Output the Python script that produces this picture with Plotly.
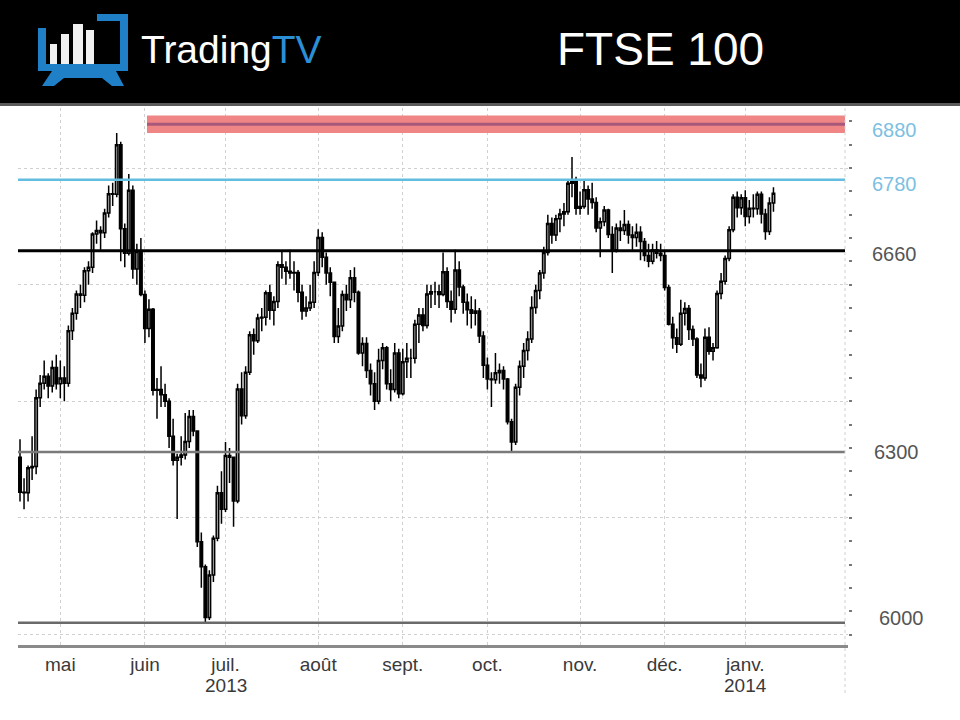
'''FTSE 100 daily candles, April 2013 - January 2014, with support/resistance levels'''

import plotly.graph_objects as go

# trading sessions shown on the chart (London, weekends and bank holidays left out)
trading_days = {
    '2013-04': [17, 18, 19, 22, 23, 24, 25, 26, 29, 30],
    '2013-05': [1, 2, 3, 7, 8, 9, 10, 13, 14, 15, 16, 17, 20, 21, 22, 23, 24, 28, 29, 30, 31],
    '2013-06': [3, 4, 5, 6, 7, 10, 11, 12, 13, 14, 17, 18, 19, 20, 21, 24, 25, 26, 27, 28],
    '2013-07': [1, 2, 3, 4, 5, 8, 9, 10, 11, 12, 15, 16, 17, 18, 19, 22, 23, 24, 25, 26, 29, 30, 31],
    '2013-08': [1, 2, 5, 6, 7, 8, 9, 12, 13, 14, 15, 16, 19, 20, 21, 22, 23, 27, 28, 29, 30],
    '2013-09': [2, 3, 4, 5, 6, 9, 10, 11, 12, 13, 16, 17, 18, 19, 20, 23, 24, 25, 26, 27, 30],
    '2013-10': [1, 2, 3, 4, 7, 8, 9, 10, 11, 14, 15, 16, 17, 18, 21, 22, 23, 24, 25, 28, 29, 30, 31],
    '2013-11': [1, 4, 5, 6, 7, 8, 11, 12, 13, 14, 15, 18, 19, 20, 21, 22, 25, 26, 27, 28, 29],
    '2013-12': [2, 3, 4, 5, 6, 9, 10, 11, 12, 13, 16, 17, 18, 19, 20, 23, 24, 27, 30, 31],
    '2014-01': [2, 3, 6, 7, 8, 9, 10, 13],
}

opens = [
    6304, 6244, 6243, 6286, 6288, 6406, 6431, 6443, 6426, 6458,
    6430, 6440, 6431, 6521, 6551, 6584, 6582, 6624, 6630, 6687, 6693, 6689, 6723, 6756, 6755, 6840, 6696, 6654, 6762, 6627, 6657,
    6583, 6525, 6558, 6419, 6420, 6411, 6400, 6340, 6299, 6304, 6308, 6331, 6374, 6349, 6159, 6116, 6029, 6102, 6165, 6243,
    6215, 6307, 6304, 6229, 6421, 6375, 6450, 6514, 6504, 6543, 6544, 6586, 6556, 6571, 6634, 6630, 6623, 6620, 6621, 6587, 6555, 6560, 6570,
    6621, 6681, 6647, 6620, 6604, 6511, 6529, 6583, 6574, 6612, 6587, 6483, 6499, 6453, 6430, 6400, 6470, 6492, 6430, 6420, 6483,
    6413, 6468, 6474, 6474, 6532, 6548, 6530, 6584, 6588, 6588, 6583, 6622, 6571, 6558, 6625, 6596, 6570, 6557, 6551, 6555, 6512,
    6462, 6438, 6437, 6449, 6453, 6438, 6365, 6330, 6424, 6460, 6487, 6507, 6561, 6590, 6620, 6655, 6705, 6685, 6713, 6721, 6725, 6774, 6777,
    6731, 6734, 6763, 6747, 6741, 6697, 6708, 6728, 6686, 6660, 6697, 6693, 6703, 6685, 6681, 6690, 6674, 6650, 6640, 6660, 6654,
    6650, 6595, 6532, 6509, 6498, 6551, 6559, 6523, 6507, 6445, 6440, 6510, 6486, 6492, 6585, 6606, 6645, 6694, 6750, 6732,
    6749, 6717, 6731, 6730, 6755, 6721, 6691, 6740,
]
highs = [
    6335, 6268, 6290, 6340, 6420, 6445, 6470, 6448, 6470, 6480,
    6470, 6460, 6530, 6560, 6590, 6600, 6630, 6640, 6690, 6710, 6700, 6730, 6770, 6775, 6860, 6845, 6705, 6790, 6770, 6670, 6680,
    6590, 6575, 6560, 6440, 6460, 6430, 6405, 6370, 6310, 6340, 6380, 6385, 6385, 6350, 6175, 6120, 6110, 6170, 6255, 6280,
    6330, 6320, 6305, 6430, 6450, 6460, 6520, 6525, 6550, 6560, 6590, 6600, 6580, 6640, 6659, 6640, 6660, 6640, 6625, 6600, 6580, 6600, 6640,
    6695, 6690, 6655, 6630, 6605, 6560, 6590, 6600, 6625, 6630, 6590, 6510, 6510, 6465, 6450, 6490, 6500, 6495, 6455, 6500, 6490,
    6490, 6500, 6490, 6540, 6560, 6560, 6600, 6600, 6605, 6600, 6655, 6630, 6590, 6660, 6640, 6600, 6585, 6580, 6575, 6560, 6520,
    6475, 6450, 6483, 6465, 6460, 6440, 6370, 6430, 6470, 6500, 6520, 6580, 6600, 6625, 6665, 6720, 6715, 6720, 6730, 6740, 6780, 6819, 6785,
    6760, 6779, 6770, 6775, 6750, 6715, 6735, 6730, 6700, 6705, 6710, 6728, 6710, 6700, 6705, 6700, 6680, 6670, 6670, 6675, 6670,
    6660, 6600, 6545, 6525, 6574, 6570, 6565, 6530, 6510, 6465, 6525, 6527, 6500, 6590, 6620, 6650, 6700, 6755, 6760, 6755,
    6762, 6745, 6755, 6760, 6760, 6730, 6750, 6767,
]
lows = [
    6228, 6215, 6228, 6265, 6275, 6390, 6420, 6405, 6415, 6420,
    6405, 6400, 6425, 6505, 6540, 6560, 6570, 6600, 6620, 6670, 6660, 6680, 6715, 6735, 6750, 6640, 6630, 6650, 6610, 6600, 6580,
    6500, 6510, 6410, 6370, 6390, 6390, 6320, 6290, 6198, 6290, 6300, 6320, 6340, 6150, 6080, 6020, 6025, 6090, 6160, 6190,
    6210, 6260, 6185, 6225, 6360, 6370, 6445, 6480, 6500, 6520, 6530, 6540, 6530, 6560, 6610, 6600, 6610, 6590, 6570, 6540, 6545, 6555, 6560,
    6615, 6630, 6600, 6580, 6500, 6500, 6520, 6555, 6560, 6570, 6480, 6460, 6440, 6410, 6385, 6395, 6455, 6420, 6400, 6415, 6405,
    6410, 6440, 6440, 6465, 6500, 6520, 6525, 6560, 6565, 6560, 6580, 6560, 6535, 6550, 6580, 6550, 6530, 6525, 6530, 6500, 6440,
    6420, 6390, 6430, 6430, 6420, 6360, 6313, 6325, 6410, 6440, 6470, 6500, 6550, 6575, 6610, 6650, 6670, 6675, 6690, 6700, 6720, 6750, 6720,
    6720, 6730, 6720, 6730, 6690, 6647, 6700, 6680, 6620, 6655, 6675, 6685, 6670, 6660, 6665, 6642, 6640, 6630, 6635, 6645, 6640,
    6590, 6530, 6490, 6483, 6495, 6530, 6505, 6495, 6440, 6424, 6435, 6480, 6470, 6490, 6575, 6600, 6640, 6690, 6715, 6720,
    6700, 6705, 6715, 6720, 6705, 6677, 6685, 6725,
]
closes = [
    6244, 6243, 6286, 6288, 6406, 6431, 6443, 6426, 6458, 6430,
    6440, 6431, 6521, 6551, 6584, 6582, 6624, 6630, 6687, 6693, 6689, 6723, 6756, 6755, 6840, 6696, 6654, 6762, 6627, 6657, 6583,
    6525, 6558, 6419, 6420, 6411, 6400, 6340, 6299, 6304, 6308, 6331, 6374, 6349, 6159, 6116, 6029, 6102, 6165, 6243, 6215,
    6307, 6304, 6229, 6421, 6375, 6450, 6514, 6504, 6543, 6544, 6586, 6556, 6571, 6634, 6630, 6623, 6620, 6621, 6587, 6555, 6560, 6570, 6621,
    6681, 6647, 6620, 6604, 6511, 6529, 6583, 6574, 6612, 6587, 6483, 6499, 6453, 6430, 6400, 6470, 6492, 6430, 6420, 6483, 6413,
    6468, 6474, 6474, 6532, 6548, 6530, 6584, 6588, 6588, 6583, 6622, 6571, 6558, 6625, 6596, 6570, 6557, 6551, 6555, 6512, 6462,
    6438, 6437, 6449, 6453, 6438, 6365, 6330, 6424, 6460, 6487, 6507, 6561, 6590, 6620, 6655, 6705, 6685, 6713, 6721, 6725, 6774, 6777, 6731,
    6734, 6763, 6747, 6741, 6697, 6708, 6728, 6686, 6660, 6697, 6693, 6703, 6685, 6681, 6690, 6674, 6650, 6640, 6660, 6654, 6650,
    6595, 6532, 6509, 6498, 6551, 6559, 6523, 6507, 6445, 6440, 6510, 6486, 6492, 6585, 6606, 6645, 6694, 6750, 6732, 6749,
    6717, 6731, 6730, 6755, 6721, 6691, 6740, 6757,
]

# month axis
month_starts = ['2013-05-01', '2013-06-03', '2013-07-01', '2013-08-01', '2013-09-02',
                '2013-10-01', '2013-11-01', '2013-12-02', '2014-01-02']
month_labels = ['mai', 'juin', 'juil.', 'août', 'sept.', 'oct.', 'nov.', 'déc.', 'janv.']
year_labels = {'2013-07-01': '2013', '2014-01-02': '2014'}

# levels drawn by the analyst, and what is written next to them
level_prices = [6875, 6780, 6658, 6313, 6020]
level_labels = ['6880', '6780', '6660', '6300', '6000']

BLUE = '#1f80c8'
FONT = 'Liberation Sans, Arial, sans-serif'

# plot area in page pixels
L, R, T, B = 18, 848, 108, 645


def px(x):
    '''page pixel x -> paper x'''
    return (x - L) / (R - L)


def py(y):
    '''page pixel y -> paper y'''
    return (B - y) / (B - T)


def box(x0, y0, x1, y1, color):
    return dict(type='rect', xref='paper', yref='paper', layer='above',
                x0=px(x0), x1=px(x1), y0=py(y1), y1=py(y0),
                fillcolor=color, line=dict(width=0))


def make_dates():
    dates = []
    for month, days in trading_days.items():
        for d in days:
            dates.append('%s-%02d' % (month, d))
    return dates


def header_shapes():
    '''black title band with the TradingTV logo'''
    shapes = [
        box(0, 0, 960, 103, 'black'),
        box(0, 103, 960, 106, '#5a5a5a'),
        # logo: screen frame
        box(38, 28, 46, 71, BLUE),
        box(97, 14, 128, 21, BLUE),
        box(120, 14, 128, 71, BLUE),
        box(38, 64, 128, 71, BLUE),
        # logo: bars
        box(50, 44, 57, 64, '#f0f0f0'),
        box(61, 34, 69, 64, '#f0f0f0'),
        box(73, 24, 83, 64, '#f0f0f0'),
        box(86, 30, 94, 64, '#f0f0f0'),
    ]
    stand = [(52, 71), (116, 71), (124, 86), (112, 86), (102, 78), (64, 78), (54, 86), (42, 86)]
    path = 'M ' + ' L '.join('%f,%f' % (px(x), py(y)) for x, y in stand) + ' Z'
    shapes.append(dict(type='path', xref='paper', yref='paper', layer='above',
                       path=path, fillcolor=BLUE, line=dict(width=0)))
    return shapes


def level_shapes():
    right = px(845)
    shapes = [
        # resistance band
        dict(type='rect', xref='paper', yref='y', x0=px(147), x1=right,
             y0=6860, y1=6890, fillcolor='#ef8585', line=dict(width=0)),
        dict(type='line', xref='paper', yref='y', x0=px(147), x1=right,
             y0=level_prices[0], y1=level_prices[0], line=dict(color='#a8587a', width=3)),
    ]
    styles = [('#62bde0', 2.5), ('black', 3), ('#7a7a7a', 2.5), ('#6a6a6a', 2.5)]
    for price, (color, width) in zip(level_prices[1:], styles):
        shapes.append(dict(type='line', xref='paper', yref='y', x0=0, x1=right,
                           y0=price, y1=price, line=dict(color=color, width=width)))
    # dotted price scale line on the right
    shapes.append(dict(type='line', xref='paper', yref='paper', x0=px(845), x1=px(845),
                       y0=py(693), y1=1, line=dict(color='#cfcfcf', width=1, dash='dot')))
    return shapes


def level_annotations():
    colors = ['#7cbfe2', '#7cbfe2', '#555555', '#555555', '#555555']
    shifts = [-6, -4, -3, 0, 5]
    xs = [894, 894, 894, 896, 901]
    notes = []
    for price, text, color, shift, x in zip(level_prices, level_labels, colors, shifts, xs):
        notes.append(dict(xref='paper', yref='y', x=px(x), y=price, yshift=shift,
                          text=text, showarrow=False, xanchor='center', yanchor='middle',
                          font=dict(family=FONT, size=20, color=color)))
    return notes


def make_graph():
    dates = make_dates()

    candles = go.Candlestick(
        x=dates, open=opens, high=highs, low=lows, close=closes,
        increasing=dict(line=dict(color='black', width=1.5), fillcolor='#a8a8a8'),
        decreasing=dict(line=dict(color='black', width=1.5), fillcolor='black'),
        whiskerwidth=0, showlegend=False, hoverinfo='x+y',
    )

    notes = level_annotations()
    # year under juil. and janv.
    for day, year in year_labels.items():
        notes.append(dict(xref='x', yref='paper', x=day, y=py(685), text=year,
                          showarrow=False, xanchor='center', yanchor='middle',
                          font=dict(family=FONT, size=19, color='#3a3a3a')))
    notes.append(dict(xref='paper', yref='paper', x=px(139), y=py(49), xanchor='left',
                      yanchor='middle', showarrow=False,
                      text="Trading<span style='color:#2b8fd6'>TV</span>",
                      font=dict(family=FONT, size=39, color='white')))
    notes.append(dict(xref='paper', yref='paper', x=px(660), y=py(49), xanchor='center',
                      yanchor='middle', showarrow=False, text='FTSE 100',
                      font=dict(family=FONT, size=46, color='white')))

    layout = go.Layout(
        width=960, height=720,
        margin=dict(l=L, r=960 - R, t=T, b=720 - B),
        paper_bgcolor='white', plot_bgcolor='white',
        showlegend=False,
        boxgap=0.12,
        xaxis=dict(
            type='category',
            range=[-0.5, 205.5],
            tickmode='array', tickvals=month_starts, ticktext=month_labels,
            tickfont=dict(family=FONT, size=19, color='#3a3a3a'),
            ticks='', showgrid=True, gridcolor='#d0d0d0', griddash='dot', gridwidth=1,
            showline=True, linecolor='#8a8a8a', linewidth=3,
            rangeslider=dict(visible=False),
        ),
        yaxis=dict(
            side='right', range=[5982, 6903],
            dtick=200, tick0=6000,
            showgrid=True, gridcolor='#d0d0d0', griddash='dot', gridwidth=1,
            ticks='outside', ticklen=3, tickwidth=2, tickcolor='#777777',
            minor=dict(dtick=40, ticks='outside', ticklen=3, tickwidth=2,
                       tickcolor='#777777', showgrid=False),
            showticklabels=False, showline=False, zeroline=False,
        ),
        shapes=header_shapes() + level_shapes(),
        annotations=notes,
    )

    fig = go.Figure(data=[candles], layout=layout)
    # no page margin, so the figure sits at the window's top-left corner
    fig.write_html('out.html', config={'displayModeBar': False},
                   post_script="document.body.style.margin = '0';")


def main():
    make_graph()


main()
